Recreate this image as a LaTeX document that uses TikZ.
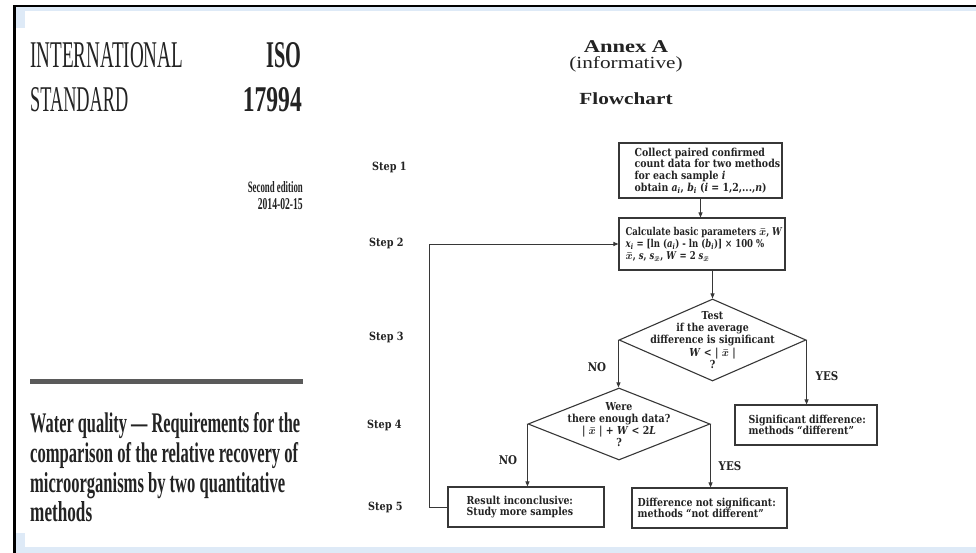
\documentclass[tikz,border=0pt]{standalone}
\usepackage{fontspec}
\usepackage{graphicx}
\setmainfont{Liberation Serif}
\newfontfamily\fcfont[FakeStretch=0.855]{DejaVu Serif}
\newfontfamily\fcnarrow[FakeStretch=0.79]{DejaVu Serif}
\newfontfamily\hdfont[FakeStretch=1.25]{Liberation Serif}
\usetikzlibrary{shapes.geometric,arrows.meta}
\definecolor{ink}{RGB}{35,35,35}
\definecolor{lineink}{RGB}{55,55,55}
\definecolor{paleblue}{RGB}{222,234,247}
\newcommand{\fitbox}[3]{\resizebox{#1}{#2}{#3}}
\newcommand{\vsub}[2]{\textit{#1}\textsubscript{\textit{#2}}}
\begin{document}
\begin{tikzpicture}[x=1pt,y=-1pt,
  fc/.style={font=\fcfont\bfseries\boldmath\fontsize{11}{11.6}\selectfont, text=ink, inner sep=0pt, align=left},
  fcc/.style={fc, align=center, font=\fcfont\bfseries\boldmath\fontsize{11}{12.2}\selectfont},
  stepl/.style={font=\fcfont\bfseries\fontsize{11.3}{12}\selectfont, text=ink, inner sep=0pt, anchor=west},
  boxn/.style={draw=lineink, line width=1.1pt, rectangle, inner sep=0pt},
  dia/.style={draw=lineink, line width=1.1pt, diamond, inner sep=0pt},
  conn/.style={draw=lineink, line width=0.9pt},
  arr/.style={conn, -{Triangle[length=5pt,width=4pt]}},
  lbl/.style={font=\fcfont\bfseries\fontsize{12}{12}\selectfont, text=ink, inner sep=0pt},
  big/.style={inner sep=0pt, text=ink},
  hd/.style={inner sep=0pt, text=ink, anchor=base},
]
\useasboundingbox (0,0) rectangle (976,553);
\fill[white] (0,0) rectangle (976,553);
% frame
\fill[paleblue] (16,7) rectangle (976,11);
\fill[paleblue] (16,7) rectangle (25,28);
\fill[paleblue] (16,547) rectangle (976,553);
\fill[paleblue] (16,533) rectangle (25,553);
\fill[black] (13,5) rectangle (976,7.5);
\fill[black] (13,5) rectangle (16,553);

% left panel
\node[big, anchor=base west] (intl) at (30,68) {\fitbox{153pt}{25pt}{INTERNATIONAL}};
\node[big, anchor=base west] (stdw) at (30,112) {\fitbox{98pt}{24pt}{STANDARD}};
\node[big, anchor=base east] (iso) at (302,68) {\fitbox{35pt}{25pt}{\bfseries ISO}};
\node[big, anchor=base east] (num) at (302,112) {\fitbox{59pt}{24pt}{\bfseries 17994}};
\node[big, anchor=base east] (ed) at (303,193) {\fitbox{55pt}{11pt}{\bfseries Second edition}};
\node[big, anchor=base east] (date) at (303,210) {\fitbox{45pt}{11pt}{\bfseries 2014-02-15}};
\fill[ink!75] (30,379) rectangle (303,383.5);
\node[big, anchor=base west] (t1) at (30,432) {\fitbox{270pt}{20pt}{\bfseries Water quality — Requirements for the}};
\node[big, anchor=base west] (t2) at (30,462) {\fitbox{268pt}{20pt}{\bfseries comparison of the relative recovery of}};
\node[big, anchor=base west] (t3) at (30,492) {\fitbox{255pt}{20pt}{\bfseries microorganisms by two quantitative}};
\node[big, anchor=base west] (t4) at (30,521) {\fitbox{62pt}{20pt}{\bfseries methods}};

% headings
\node[hd] (annex) at (626,53) {\hdfont\bfseries\fontsize{18}{18}\selectfont Annex A};
\node[hd] (inf) at (626,69) {\hdfont\fontsize{17}{18}\selectfont (informative)};
\node[hd] (flow) at (626,105) {\hdfont\bfseries\fontsize{17}{18}\selectfont Flowchart};

% steps
\node[stepl] (s1) at (372,167) {Step 1};
\node[stepl] (s2) at (369,243) {Step 2};
\node[stepl] (s3) at (369,337) {Step 3};
\node[stepl] (s4) at (367,425) {Step 4};
\node[stepl] (s5) at (368,507) {Step 5};

% flowchart
\node[boxn, minimum width=163pt, minimum height=55pt] (b1) at (700.5,170.5) {};
\node[fc, anchor=west] (b1t) at ([xshift=16pt]b1.west) {Collect paired confirmed\\count data for two methods\\for each sample \textit{i}\\obtain \vsub{a}{i}, \vsub{b}{i} (\textit{i} = 1,2,...,\textit{n})};

\node[boxn, minimum width=166pt, minimum height=52pt] (b2) at (702,244) {};
\node[fc, anchor=west, font=\fcnarrow\bfseries\boldmath\fontsize{10.8}{12.2}\selectfont] (b2t) at ([xshift=7pt]b2.west) {Calculate basic parameters $\bar{x}$, \textit{W}\\\vsub{x}{i} = [ln (\vsub{a}{i}) - ln (\vsub{b}{i})] × 100 \%\\$\bar{x}$, \textit{s}, \textit{s}\textsubscript{$\bar{x}$}, \textit{W} = 2 \textit{s}\textsubscript{$\bar{x}$}};

\node[dia, minimum width=187pt, minimum height=82pt] (d1) at (712.5,340) {};
\node[fcc] (d1t) at (712.5,340) {Test\\if the average\\difference is significant\\\textit{W} < | $\bar{x}$ |\\?};

\node[dia, minimum width=182pt, minimum height=72pt] (d2) at (619,424) {};
\node[fcc] (d2t) at (619,424.5) {Were\\there enough data?\\| $\bar{x}$ | + \textit{W} < 2\textit{L}\\?};

\node[boxn, minimum width=142pt, minimum height=40pt] (sig) at (806,425) {};
\node[fc, anchor=west] (sigt) at ([xshift=14pt]sig.west) {Significant difference:\\methods “different”};

\node[boxn, minimum width=156pt, minimum height=40pt] (res) at (526,507) {};
\node[fc, anchor=west] (rest) at ([xshift=19pt]res.west) {Result inconclusive:\\Study more samples};

\node[boxn, minimum width=155pt, minimum height=40pt] (diff) at (709.5,508) {};
\node[fc, anchor=west] (difft) at ([xshift=6pt]diff.west) {Difference not significant:\\methods “not different”};

% labels
\node[lbl] (no1) at (597,367) {NO};
\node[lbl] (yes1) at (827,376) {YES};
\node[lbl] (no2) at (508,460) {NO};
\node[lbl] (yes2) at (730,466) {YES};

% connectors
\draw[arr] (b1.south) -- (b1.south |- b2.north);
\draw[arr] (d1.north |- b2.south) -- (d1.north);
\draw[arr] (d1.west) -- (d1.west |- d2.north);
\draw[arr] (d1.east) -- (d1.east |- sig.north);
\draw[arr] (d2.west) -- (d2.west |- res.north);
\draw[arr] (d2.east) -- (d2.east |- diff.north);
\draw[arr] (res.west) -- ++(-18,0) |- (b2.west);
\end{tikzpicture}
\end{document}
